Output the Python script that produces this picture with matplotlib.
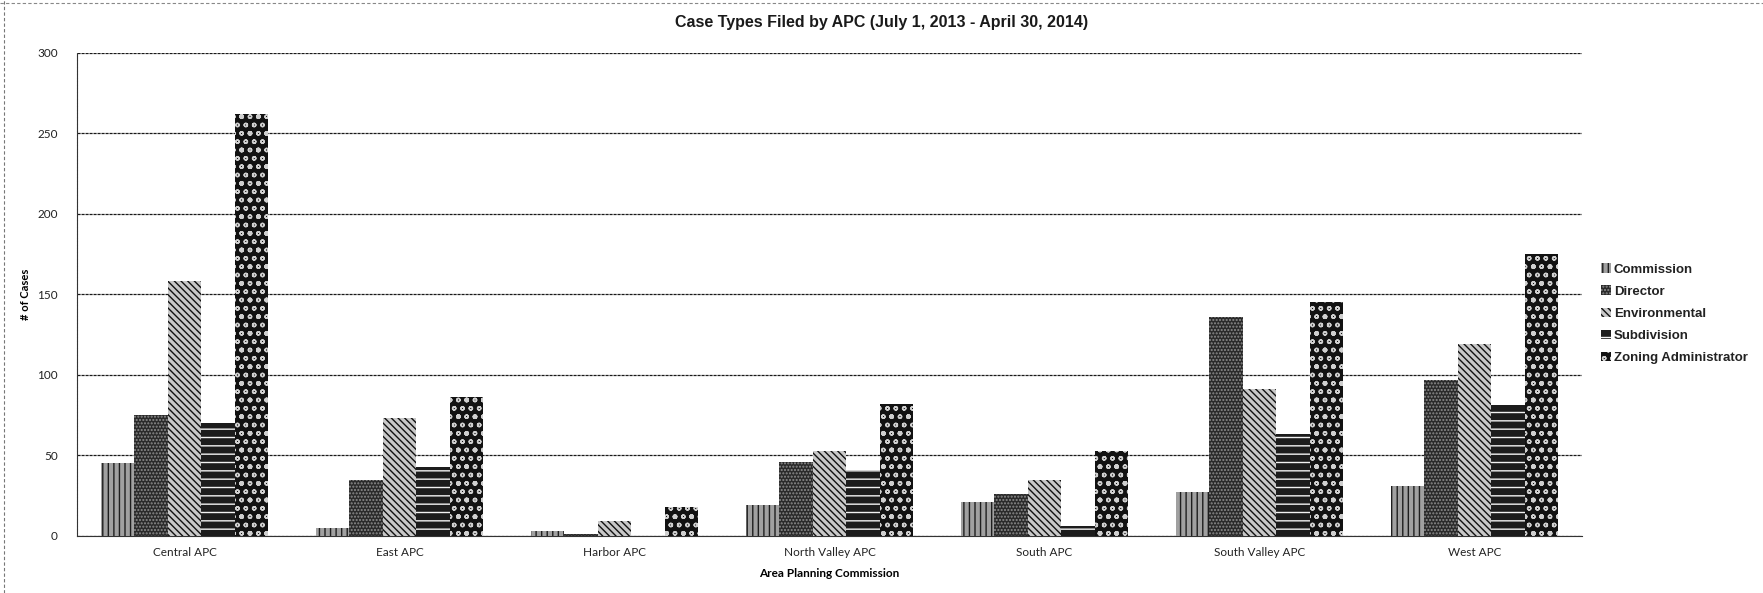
import numpy as np
import matplotlib
matplotlib.use("Agg")
import matplotlib.pyplot as plt
from matplotlib.lines import Line2D

# APC case counts, July 1 2013 - April 30 2014
apcs = ["Central APC", "East APC", "Harbor APC", "North Valley APC",
        "South APC", "South Valley APC", "West APC"]
case_types = ["Commission", "Director", "Environmental", "Subdivision",
              "Zoning Administrator"]
commission    = [45, 5, 3, 19, 21, 27, 31]
director      = [75, 35, 1, 46, 26, 136, 97]
environmental = [158, 73, 9, 53, 35, 91, 119]
subdivision   = [70, 43, 0, 41, 6, 63, 81]
zoning_admin  = [262, 86, 18, 82, 53, 145, 175]
series = [commission, director, environmental, subdivision, zoning_admin]

# fill / hatch look for each case type (grayscale print)
styles = [
    dict(facecolor="#a0a0a0", edgecolor="#1e1e1e", hatch="|||"),
    dict(facecolor="#2a2a2a", edgecolor="#8c8c8c", hatch="....."),
    dict(facecolor="#c8c8c8", edgecolor="#111111", hatch="\\\\\\\\\\"),
    dict(facecolor="#1c1c1c", edgecolor="#f2f2f2", hatch="--"),
    dict(facecolor="#121212", edgecolor="#cfcfcf", hatch="oo."),
]

plt.rcParams["hatch.linewidth"] = 1.0

fig = plt.figure(figsize=(17.63, 5.93), dpi=100)
ax = fig.add_axes([0.0437, 0.0963, 0.8536, 0.8147])

x = np.arange(len(apcs))
w = 0.156
for i, (vals, st) in enumerate(zip(series, styles)):
    ax.bar(x + (i - 2) * w, vals, width=w, linewidth=0, label=case_types[i],
           zorder=3, **st)

ax.set_xlim(-0.5, len(apcs) - 0.5)
ax.set_ylim(0, 300)
ax.set_yticks(range(0, 301, 50))
ax.yaxis.grid(True, color="#1a1a1a", linewidth=0.9, linestyle=(0, (2.5, 0.7)), zorder=0)
ax.set_axisbelow(True)
for s in ["top", "right"]:
    ax.spines[s].set_visible(False)
ax.spines["left"].set_color("#333333")
ax.spines["left"].set_linestyle((0, (2.5, 0.7)))
ax.spines["bottom"].set_color("#333333")
ax.tick_params(length=0)
ax.tick_params(axis="y", pad=14)
ax.tick_params(axis="x", pad=8)

ax.set_xticks(x)
ax.set_xticklabels(apcs, family="Lato", fontsize=8.5, color="#222222")
for lbl in ax.get_yticklabels():
    lbl.set_family("Lato")
    lbl.set_fontsize(8.5)
    lbl.set_color("#222222")

ax.set_ylabel("# of Cases", family="Lato", fontsize=8, fontweight="bold", labelpad=4)
ax.set_xlabel("Area Planning Commission", family="Lato", fontsize=8.5,
              fontweight="bold", labelpad=7)

fig.text(0.5, 0.962, "Case Types Filed by APC (July 1, 2013 - April 30, 2014)",
         ha="center", va="center", family="Liberation Sans", fontsize=11.5,
         fontweight="bold", color="#1a1a1a")

leg = ax.legend(loc="center left", bbox_to_anchor=(1.005, 0.46), frameon=False,
                prop=dict(family="Liberation Sans", size=9.5, weight="bold"),
                handlelength=0.7, handleheight=0.7, handletextpad=0.25,
                labelspacing=0.75)
for t in leg.get_texts():
    t.set_color("#222222")

# scanned page edges
fig.add_artist(Line2D([0.002, 0.002], [0.0, 1.0], transform=fig.transFigure,
                      color="#777777", lw=0.8, linestyle=(0, (3, 2))))
fig.add_artist(Line2D([0.0, 1.0], [0.995, 0.995], transform=fig.transFigure,
                      color="#888888", lw=0.8, linestyle=(0, (3, 2))))

fig.savefig("out.png", dpi=100)
